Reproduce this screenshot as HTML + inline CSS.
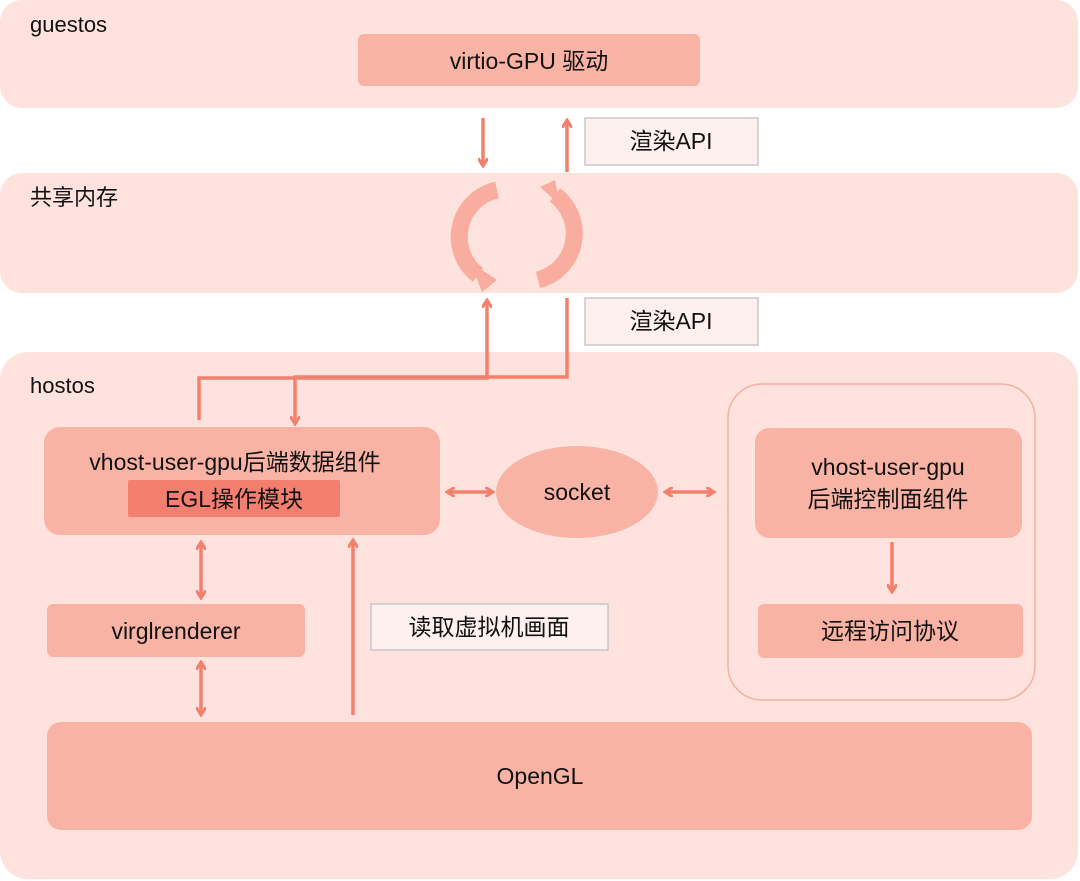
<!DOCTYPE html>
<html><head><meta charset="utf-8"><style>
html,body{margin:0;padding:0;background:#fff;}
svg{display:block;}
text{font-family:"Liberation Sans","Noto Sans CJK SC",sans-serif;fill:#111;}
</style></head><body>
<svg width="1080" height="881" viewBox="0 0 1080 881" xmlns="http://www.w3.org/2000/svg">
<defs>
<marker id="ah" markerWidth="10" markerHeight="10" refX="8" refY="5" orient="auto" markerUnits="userSpaceOnUse">
<path d="M0,0 L8,5 L0,10" fill="none" stroke="#f2806f" stroke-width="3"/>
</marker>
<marker id="ahs" markerWidth="10" markerHeight="10" refX="2" refY="5" orient="auto" markerUnits="userSpaceOnUse">
<path d="M10,0 L2,5 L10,10" fill="none" stroke="#f2806f" stroke-width="3"/>
</marker>
</defs>
<!-- bands -->
<rect x="0" y="0" width="1078" height="108" rx="22" fill="#fde2dd"/>
<rect x="0" y="173" width="1078" height="120" rx="22" fill="#fde2dd"/>
<rect x="0" y="352" width="1078" height="527" rx="28" fill="#fde2dd"/>
<text x="30" y="32" font-size="22">guestos</text>
<text x="30" y="205" font-size="22">共享内存</text>
<text x="30" y="393" font-size="22">hostos</text>

<rect x="358" y="34" width="342" height="52" rx="6" fill="#f9b3a5"/>
<text x="529" y="69" font-size="23" text-anchor="middle">virtio-GPU 驱动</text>

<g stroke="#f2806f" stroke-width="3.5" fill="none">
<line x1="483" y1="118" x2="483" y2="166" marker-end="url(#ah)"/>
<line x1="567" y1="172" x2="567" y2="120" marker-end="url(#ah)"/>
<polyline points="199,420 199,378 487,378 487,300" marker-end="url(#ah)"/>
<polyline points="567,298 567,377 295,377 295,424" marker-end="url(#ah)"/>
<line x1="447" y1="492" x2="493" y2="492" marker-start="url(#ahs)" marker-end="url(#ah)"/>
<line x1="665" y1="492" x2="714" y2="492" marker-start="url(#ahs)" marker-end="url(#ah)"/>
<line x1="201" y1="542" x2="201" y2="598" marker-start="url(#ahs)" marker-end="url(#ah)"/>
<line x1="201" y1="662" x2="201" y2="715" marker-start="url(#ahs)" marker-end="url(#ah)"/>
<line x1="353" y1="715" x2="353" y2="540" marker-end="url(#ah)"/>
<line x1="892" y1="542" x2="892" y2="592" marker-end="url(#ah)"/>
</g>

<!-- labels -->
<g>
<rect x="585" y="118" width="173" height="47" fill="#fdf0ee" stroke="#c8c8c8" stroke-width="1.5"/>
<text x="671" y="149" font-size="23" text-anchor="middle">渲染API</text>
<rect x="585" y="298" width="173" height="47" fill="#fdf0ee" stroke="#c8c8c8" stroke-width="1.5"/>
<text x="671" y="329" font-size="23" text-anchor="middle">渲染API</text>
<rect x="371" y="604" width="237" height="46" fill="#fdf0ee" stroke="#c8c8c8" stroke-width="1.5"/>
<text x="489" y="635" font-size="23" text-anchor="middle">读取虚拟机画面</text>
</g>

<!-- circular arrows -->
<g stroke="#f9ad9e" stroke-width="17" fill="none">
<path d="M497,190 A48,48 0 0 0 478,275"/>
<path d="M538,280 A48,48 0 0 0 555,195"/>
</g>
<polygon points="470,262 497,280 482,292" fill="#f9ad9e"/>
<polygon points="540,187 555,180 560,205" fill="#f9ad9e"/>

<!-- hostos components -->
<rect x="44" y="427" width="396" height="108" rx="16" fill="#f9b3a5"/>
<text x="235" y="470" font-size="23" text-anchor="middle">vhost-user-gpu后端数据组件</text>
<rect x="128" y="480" width="212" height="37" rx="2" fill="#f47e6f"/>
<text x="234" y="507" font-size="23" text-anchor="middle">EGL操作模块</text>

<ellipse cx="577" cy="492" rx="81" ry="46" fill="#f9b3a5"/>
<text x="577" y="500" font-size="23" text-anchor="middle">socket</text>

<rect x="728" y="384" width="307" height="316" rx="34" fill="none" stroke="#f5b0a2" stroke-width="1.5"/>
<rect x="755" y="428" width="267" height="110" rx="14" fill="#f9b3a5"/>
<text x="888" y="475" font-size="23" text-anchor="middle">vhost-user-gpu</text>
<text x="888" y="507" font-size="23" text-anchor="middle">后端控制面组件</text>
<rect x="758" y="604" width="265" height="54" rx="6" fill="#f9b3a5"/>
<text x="890" y="639" font-size="23" text-anchor="middle">远程访问协议</text>

<rect x="47" y="604" width="258" height="53" rx="6" fill="#f9b3a5"/>
<text x="176" y="639" font-size="23" text-anchor="middle">virglrenderer</text>

<rect x="47" y="722" width="985" height="108" rx="14" fill="#f9b3a5"/>
<text x="540" y="784" font-size="23" text-anchor="middle">OpenGL</text>
</svg>
</body></html>
